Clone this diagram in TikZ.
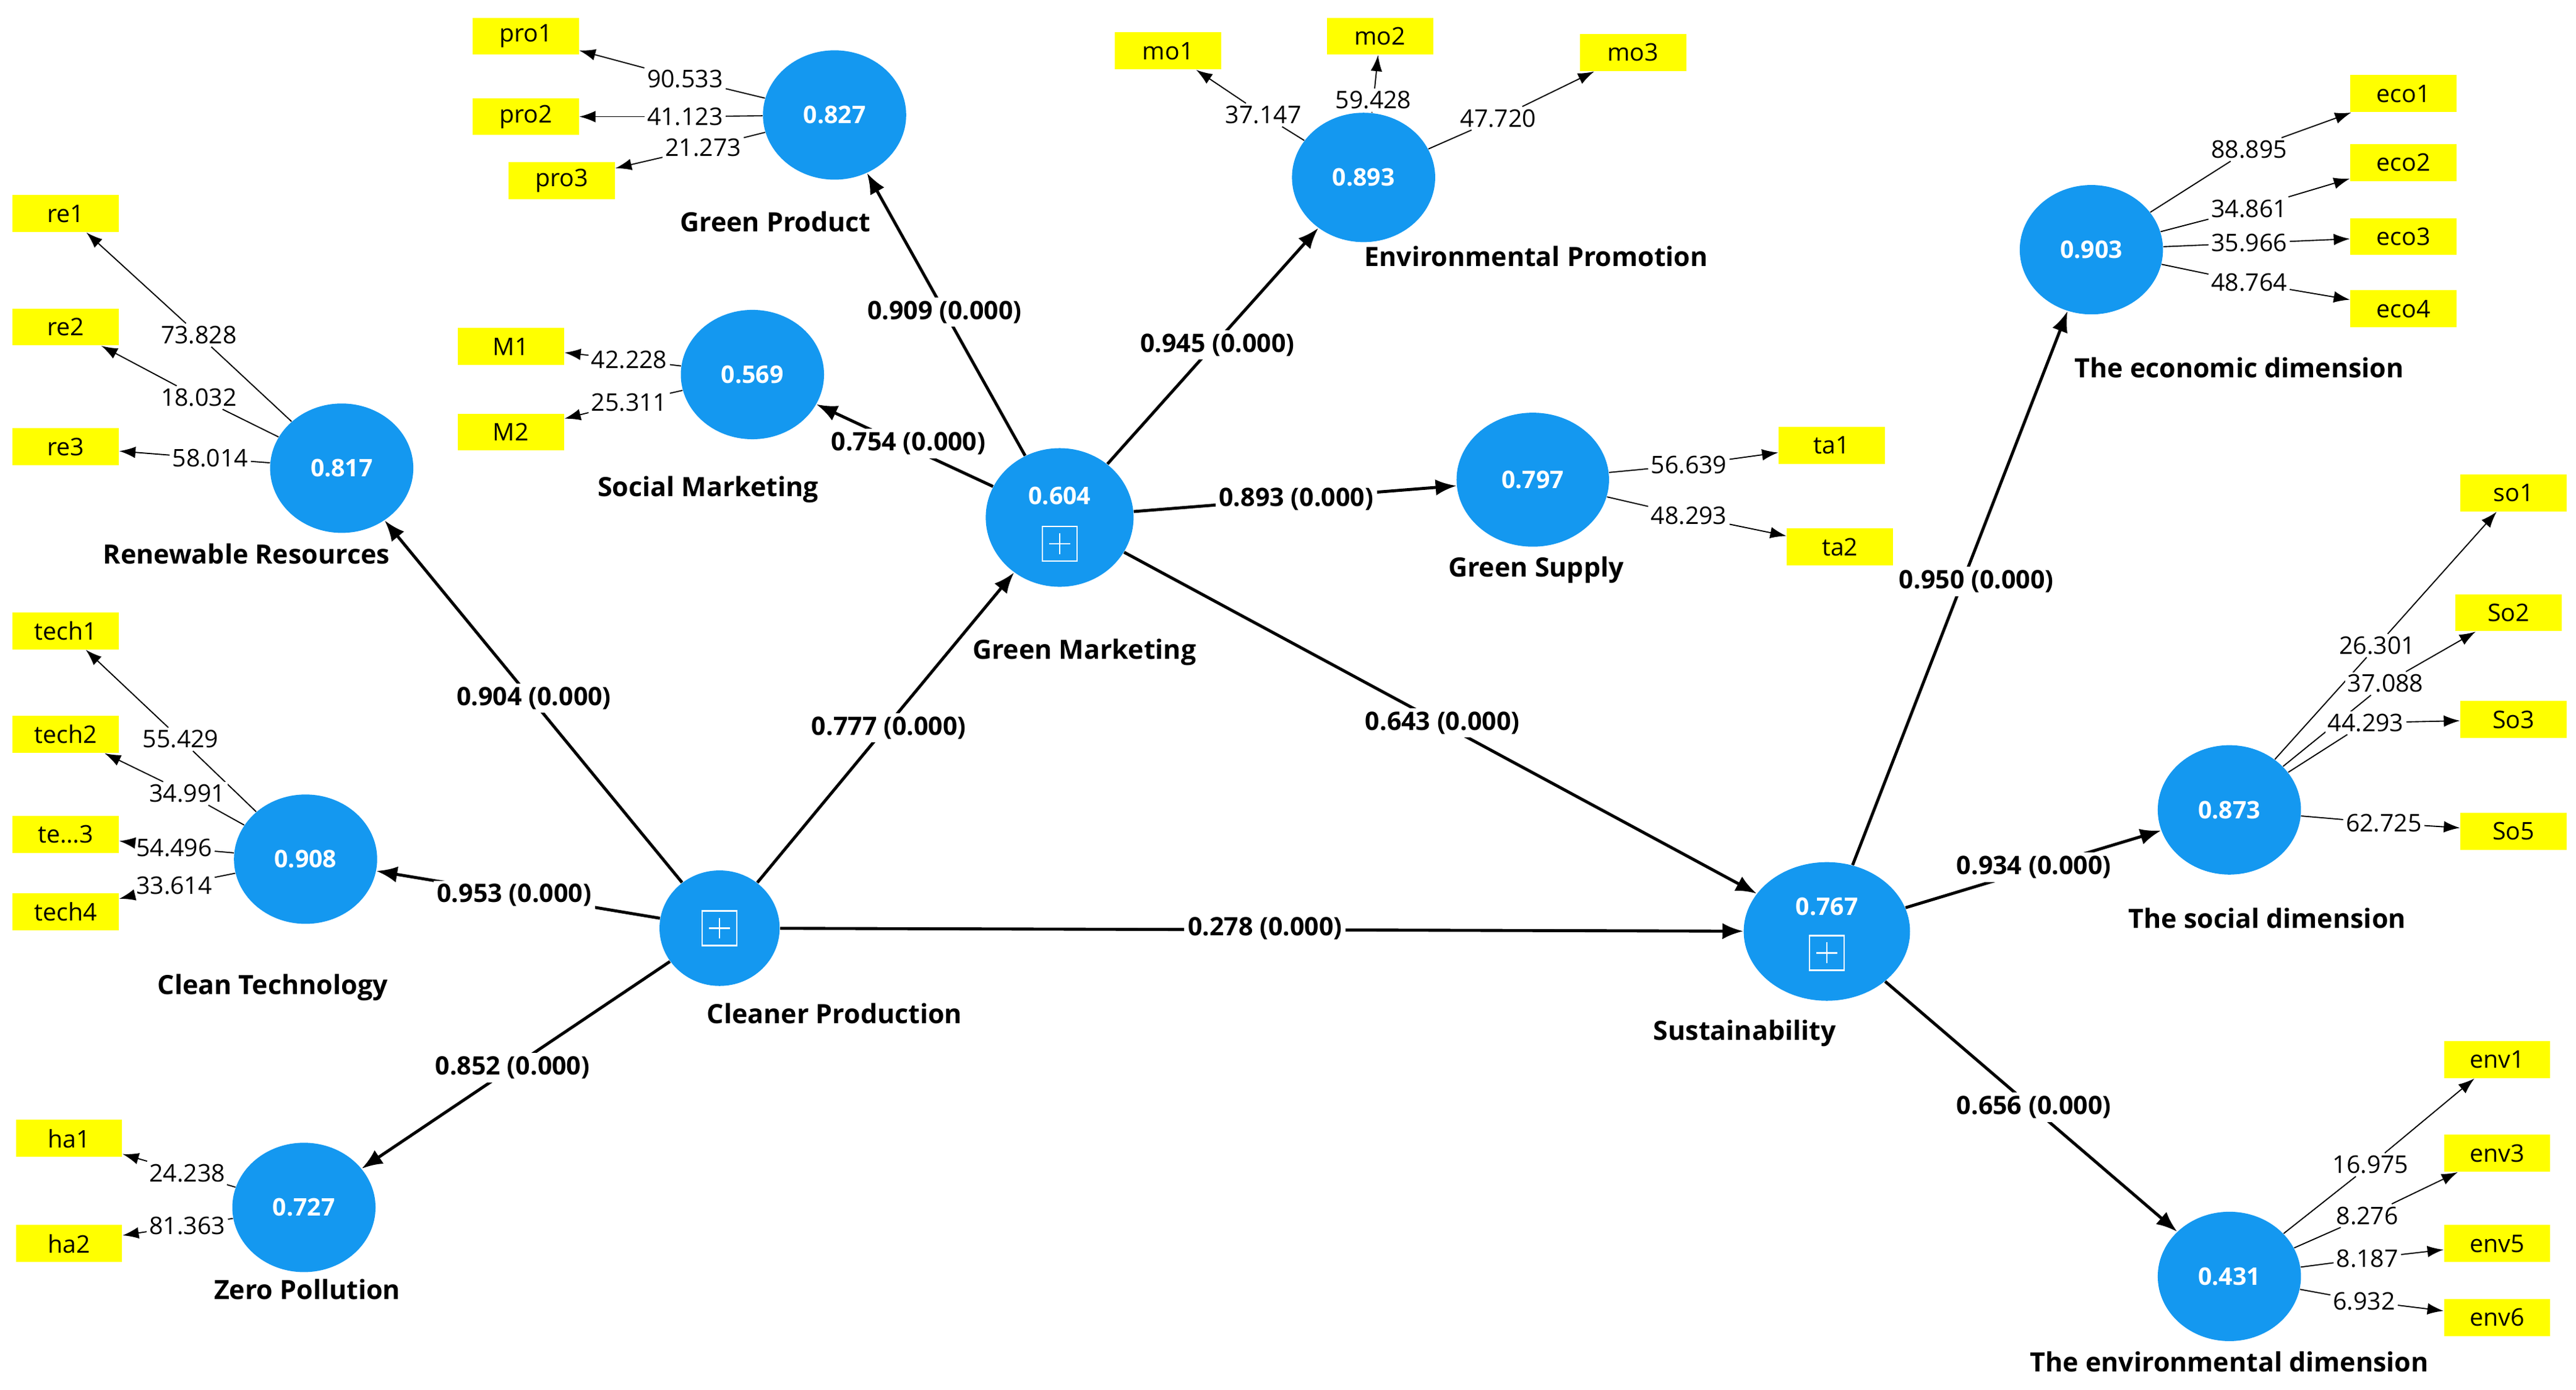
\documentclass[tikz,border=0pt]{standalone}
\usepackage{fontspec}
\setmainfont{Open Sans}
\usetikzlibrary{arrows.meta, shapes.geometric}
\definecolor{lvblue}{RGB}{20,152,240}
\definecolor{indyel}{RGB}{255,255,0}
\tikzset{
  lv/.style={ellipse, fill=lvblue, minimum width=62, minimum height=56, inner sep=0pt,
    text=white, font=\fontsize{10.5}{12}\selectfont\bfseries},
  lvs/.style={lv, minimum width=64, minimum height=60},
  lvname/.style={font=\fontsize{11.5}{13}\selectfont\bfseries},
  ind/.style={fill=indyel, minimum width=46, minimum height=16, inner sep=1pt,
    font=\fontsize{10.5}{12}\selectfont},
  num/.style={fill=white, inner sep=1pt, font=\fontsize{10.5}{12}\selectfont},
  coef/.style={fill=white, inner sep=1.5pt, font=\fontsize{11}{13}\selectfont\bfseries},
  spath/.style={line width=1.3pt, -{Latex[length=9pt,width=7pt]}},
  load/.style={line width=0.5pt, -{Latex[length=7pt,width=5pt]}},
  plusbox/.style={draw=white, line width=0.7pt, minimum size=15, inner sep=0pt,
    path picture={\draw[white,line width=0.7pt] (path picture bounding box.north) ++(0,-3pt) -- ++(0,-9pt)
      (path picture bounding box.west) ++(3pt,0) -- ++(9pt,0);}},
}
\begin{document}
\begin{tikzpicture}[x=0.025cm, y=-0.025cm]
\useasboundingbox (0,0) rectangle (1568,846);

% latent variables
\node[lv, minimum width=52, minimum height=50] (cp) at (438,565) {};
\node[plusbox] at (cp) {};
\node[lvs] (gm) at (645,315) {};
\node[text=white, font=\fontsize{10.5}{12}\selectfont\bfseries] at (645,302) {0.604};
\node[plusbox] at (645,331) {};
\node[lvs, minimum width=72] (su) at (1112,567) {};
\node[text=white, font=\fontsize{10.5}{12}\selectfont\bfseries] at (1112,552) {0.767};
\node[plusbox] at (1112,580) {};
\node[lv] (rr) at (208,285) {0.817};
\node[lv] (ct) at (186,523) {0.908};
\node[lv] (zp) at (185,735) {0.727};
\node[lv] (gp) at (508,70) {0.827};
\node[lv] (sm) at (458,228) {0.569};
\node[lv] (ep) at (830,108) {0.893};
\node[lv, minimum width=66, minimum height=58] (gs) at (933,292) {0.797};
\node[lv] (eco) at (1273,152) {0.903};
\node[lv] (soc) at (1357,493) {0.873};
\node[lv] (env) at (1357,777) {0.431};

% names
\foreach \t/\x/\y in {Cleaner Production/508/617, Green Marketing/660/397, Sustainability/1062/629,
  Renewable Resources/150/337, Clean Technology/166/601, Zero Pollution/187/785,
  Green Product/472/135, Social Marketing/431/298, Environmental Promotion/935/156,
  Green Supply/935/347, The economic dimension/1363/224, The social dimension/1380/559,
  The environmental dimension/1357/829}
  \node[lvname] at (\x,\y) {\t};

% structural paths
\foreach \a/\b/\v/\x/\y in {cp/rr/0.904/325/425, cp/ct/0.953/313/545, cp/zp/0.852/312/650,
  cp/gm/0.777/541/443, cp/su/0.278/770/565, gm/gp/0.909/575/190, gm/sm/0.754/553/270,
  gm/ep/0.945/741/210, gm/gs/0.893/789/304, gm/su/0.643/878/440, su/eco/0.950/1203/354,
  su/soc/0.934/1238/528, su/env/0.656/1238/674}
  \draw[spath] (\a) -- (\b);
\foreach \a/\b/\v/\x/\y in {cp/rr/0.904/325/425, cp/ct/0.953/313/545, cp/zp/0.852/312/650,
  cp/gm/0.777/541/443, cp/su/0.278/770/565, gm/gp/0.909/575/190, gm/sm/0.754/553/270,
  gm/ep/0.945/741/210, gm/gs/0.893/789/304, gm/su/0.643/878/440, su/eco/0.950/1203/354,
  su/soc/0.934/1238/528, su/env/0.656/1238/674}
  \node[coef] at (\x,\y) {\v\ (0.000)};

% indicators and loadings
\foreach \c/\i/\t/\x/\y/\v/\nx/\ny in {
  rr/re1/re1/40/130/73.828/121/204, rr/re2/re2/40/199/18.032/121/242, rr/re3/re3/40/272/58.014/128/279,
  ct/tech1/tech1/40/384/55.429/110/450, ct/tech2/tech2/40/447/34.991/114/483,
  ct/tech3/{te{\ldots}3}/40/508/54.496/106/516, ct/tech4/tech4/40/555/33.614/106/539,
  zp/ha1/ha1/42/693/24.238/114/714, zp/ha2/ha2/42/757/81.363/114/746,
  gp/pro1/pro1/320/22/90.533/417/48, gp/pro2/pro2/320/71/41.123/417/71, gp/pro3/pro3/342/110/21.273/428/90,
  sm/M1/M1/311/211/42.228/383/219, sm/M2/M2/311/263/25.311/383/245,
  ep/mo1/mo1/711/31/37.147/769/70, ep/mo2/mo2/840/22/59.428/836/61, ep/mo3/mo3/994/32/47.720/912/72,
  gs/ta1/ta1/1115/271/56.639/1028/283, gs/ta2/ta2/1120/333/48.293/1028/314,
  eco/eco1/eco1/1463/57/88.895/1369/91, eco/eco2/eco2/1463/99/34.861/1369/127,
  eco/eco3/eco3/1463/144/35.966/1369/148, eco/eco4/eco4/1463/188/48.764/1369/172,
  soc/so1/so1/1530/300/26.301/1447/393, soc/So2/So2/1527/373/37.088/1452/416,
  soc/So3/So3/1530/438/44.293/1440/440, soc/So5/So5/1530/506/62.725/1451/501,
  env/env1/env1/1520/645/16.975/1443/709, env/env3/env3/1520/702/8.276/1441/740,
  env/env5/env5/1520/757/8.187/1441/766, env/env6/env6/1520/802/6.932/1439/792}
{
  \node[ind] (\i) at (\x,\y) {\t};
  \node[num] (n\i) at (\nx,\ny) {\v};
  \draw[line width=0.5pt] (\c) -- (n\i);
  \draw[load] (n\i) -- (\i);
}
\end{tikzpicture}
\end{document}
